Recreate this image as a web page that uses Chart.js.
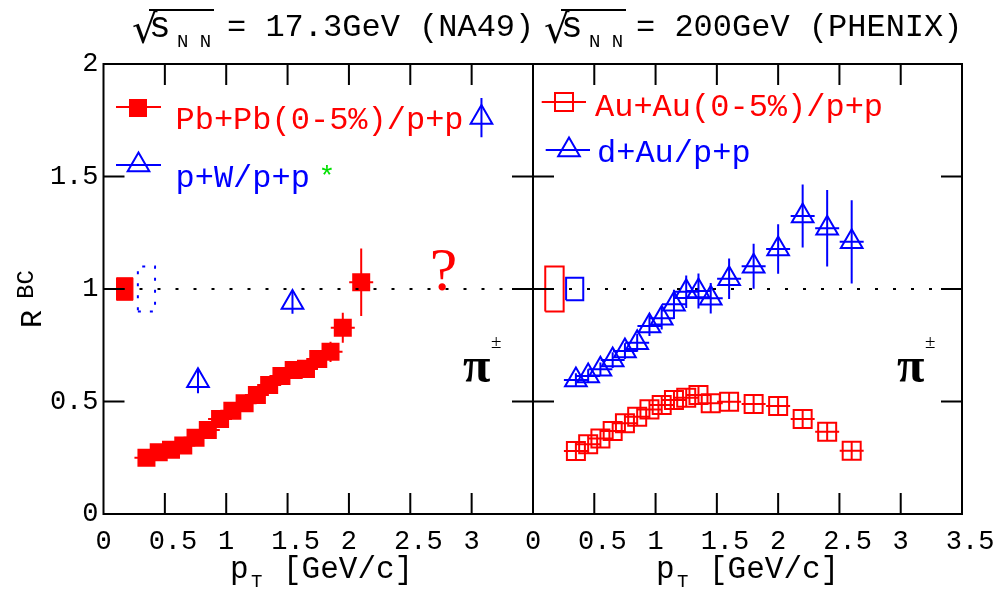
<!DOCTYPE html>
<html>
<head>
<meta charset="utf-8">
<title>R_BC of charged pions: NA49 vs PHENIX</title>
<script src="https://cdn.jsdelivr.net/npm/chart.js@4.4.1/dist/chart.umd.min.js"></script>
<style>
  html, body { margin: 0; padding: 0; background: #fff; }
  #wrap { position: relative; width: 996px; height: 589px; overflow: hidden; background: #fff; }
  #wrap canvas { position: absolute; left: 0; top: 0; }
</style>
</head>
<body>
<div id="wrap">
  <canvas id="cL" width="996" height="589"></canvas>
  <canvas id="cR" width="996" height="589"></canvas>
</div>
<script>
// ---------- axes ----------
const xTickValues = [0, 0.5, 1, 1.5, 2, 2.5, 3, 3.5];
const xTickLabelsLeft = ['0', '0.5', '1', '1.5', '2', '2.5', '3', ''];
const xTickLabelsRight = ['0', '0.5', '1', '1.5', '2', '2.5', '3', '3.5'];
const yTickValues = [0, 0.5, 1, 1.5, 2];
const yTickLabels = ['0', '0.5', '1', '1.5', '2'];

// ---------- NA49, sqrt(s_NN) = 17.3 GeV ----------
const pbpbPt  = [0.35, 0.45, 0.55, 0.65, 0.75, 0.85, 0.95, 1.05, 1.15, 1.25, 1.35, 1.45, 1.55, 1.65, 1.75, 1.85, 1.95, 2.10];
const pbpbR   = [0.250, 0.274, 0.286, 0.304, 0.339, 0.373, 0.422, 0.459, 0.492, 0.529, 0.573, 0.613, 0.640, 0.645, 0.689, 0.721, 0.828, 1.030];
const pbpbErr = [0.01, 0.01, 0.01, 0.01, 0.01, 0.01, 0.012, 0.012, 0.015, 0.015, 0.02, 0.02, 0.02, 0.025, 0.03, 0.045, 0.067, 0.150];

const pwPt  = [0.77, 1.54, 3.08];
const pwR   = [0.592, 0.940, 1.762];
const pwErr = [0.055, 0.050, 0.087];

// normalisation uncertainties drawn at R = 1
const pbpbNorm = 0.05, pbpbNormX = [0.108, 0.240];
const pwNorm   = 0.10, pwNormX   = [0.280, 0.420];

// ---------- PHENIX, sqrt(s_NN) = 200 GeV ----------
const auPt  = [0.35, 0.45, 0.55, 0.65, 0.75, 0.85, 0.95, 1.05, 1.15, 1.25, 1.35, 1.45, 1.6, 1.8, 2.0, 2.2, 2.4, 2.6];
const auR   = [0.280, 0.310, 0.336, 0.369, 0.403, 0.432, 0.465, 0.484, 0.507, 0.517, 0.529, 0.492, 0.499, 0.489, 0.480, 0.422, 0.366, 0.281];
const auErr = [0.04, 0.04, 0.04, 0.04, 0.04, 0.04, 0.04, 0.04, 0.04, 0.04, 0.04, 0.04, 0.04, 0.04, 0.04, 0.04, 0.04, 0.04];

const dauPt  = [0.35, 0.45, 0.55, 0.65, 0.75, 0.85, 0.95, 1.05, 1.15, 1.25, 1.35, 1.45, 1.6, 1.8, 2.0, 2.2, 2.4, 2.6];
const dauR   = [0.596, 0.613, 0.643, 0.684, 0.724, 0.761, 0.836, 0.870, 0.932, 0.988, 0.991, 0.959, 1.046, 1.101, 1.178, 1.324, 1.270, 1.210];
const dauErr = [0.03, 0.03, 0.03, 0.035, 0.035, 0.04, 0.045, 0.05, 0.065, 0.072, 0.078, 0.068, 0.09, 0.10, 0.11, 0.14, 0.17, 0.185];

const auNorm  = 0.10, auNormX  = [0.100, 0.250];
const dauNorm = 0.05, dauNormX = [0.270, 0.410];

// ---------- styling ----------
const RED = '#ff0000', BLUE = '#0000ff', GREEN = '#00e000', BLACK = '#000000';
const MONO = '"Liberation Mono", "Courier New", monospace';
const SERIF = '"Liberation Serif", "Times New Roman", serif';
const TRI_R = 12.5;

const pts = (xs, ys) => xs.map((x, i) => ({ x, y: ys[i] }));
const boxPts = (xr, c, h) => [
  { x: xr[0], y: c - h }, { x: xr[1], y: c - h }, { x: xr[1], y: c + h },
  { x: xr[0], y: c + h }, { x: xr[0], y: c - h }
];

function unityLine() {
  return {
    type: 'line', data: [{ x: 0, y: 1 }, { x: 3.5, y: 1 }],
    borderColor: BLACK, borderWidth: 2, borderDash: [3, 15],
    pointRadius: 0, fill: false
  };
}

// vertical error bars and the short horizontal bar through each marker
const errorBarPlugin = {
  id: 'errorBars',
  afterDatasetsDraw(chart) {
    const { ctx, scales: { x, y } } = chart;
    chart.data.datasets.forEach((ds) => {
      if (!ds.errY) return;
      ctx.save();
      ctx.strokeStyle = ds.borderColor;
      ctx.lineWidth = 2;
      ctx.beginPath();
      ds.data.forEach((p, j) => {
        const px = x.getPixelForValue(p.x);
        const py = y.getPixelForValue(p.y);
        const e = ds.errY[j];
        ctx.moveTo(px, y.getPixelForValue(p.y - e));
        ctx.lineTo(px, y.getPixelForValue(p.y + e));
        if (ds.barHalf) {
          ctx.moveTo(px - ds.barHalf, py);
          ctx.lineTo(px + ds.barHalf, py);
        }
      });
      ctx.stroke();
      ctx.restore();
    });
  }
};

// closed frame with inward ticks on all four sides
const framePlugin = {
  id: 'frame',
  afterDraw(chart) {
    const { ctx, chartArea: a, scales: { x, y } } = chart;
    const L = 21;
    ctx.save();
    ctx.strokeStyle = BLACK;
    ctx.lineWidth = 2;
    ctx.strokeRect(a.left, a.top, a.right - a.left, a.bottom - a.top);
    ctx.beginPath();
    xTickValues.forEach(v => {
      const px = x.getPixelForValue(v);
      if (px <= a.left + 1 || px >= a.right - 1) return;
      ctx.moveTo(px, a.bottom); ctx.lineTo(px, a.bottom - L);
      ctx.moveTo(px, a.top); ctx.lineTo(px, a.top + L);
    });
    yTickValues.forEach(v => {
      const py = y.getPixelForValue(v);
      if (py <= a.top + 1 || py >= a.bottom - 1) return;
      ctx.moveTo(a.left, py); ctx.lineTo(a.left + L, py);
      ctx.moveTo(a.right, py); ctx.lineTo(a.right - L, py);
    });
    ctx.stroke();
    ctx.restore();
  }
};

function drawMarker(ctx, style, cx, cy, color, filled) {
  ctx.save();
  ctx.strokeStyle = color; ctx.fillStyle = color; ctx.lineWidth = 2;
  ctx.beginPath();
  if (style === 'rect') {
    ctx.rect(cx - 9, cy - 9, 18, 18);
  } else {
    ctx.moveTo(cx, cy - TRI_R);
    ctx.lineTo(cx + TRI_R * 0.866, cy + TRI_R / 2);
    ctx.lineTo(cx - TRI_R * 0.866, cy + TRI_R / 2);
    ctx.closePath();
  }
  if (filled) ctx.fill(); else ctx.stroke();
  ctx.restore();
}

// in-frame legend: entries are placed relative to the plot area
function legendPlugin(entries) {
  return {
    id: 'frameLegend',
    afterDraw(chart) {
      const { ctx, chartArea: a } = chart;
      entries.forEach(e => {
        const ds = chart.data.datasets[e.ds];
        const color = ds.borderColor;
        ctx.save();
        ctx.strokeStyle = color; ctx.lineWidth = 2;
        ctx.beginPath();
        ctx.moveTo(a.left + e.line[0], a.top + e.lineY);
        ctx.lineTo(a.left + e.line[1], a.top + e.lineY);
        ctx.stroke();
        drawMarker(ctx, ds.pointStyle, a.left + e.mx, a.top + e.my, color, ds.backgroundColor !== 'transparent');
        ctx.fillStyle = color;
        ctx.font = '32px ' + MONO;
        ctx.textBaseline = 'alphabetic';
        ctx.fillText(ds.label, a.left + e.tx, a.top + e.ty);
        if (e.mark) {
          ctx.fillStyle = GREEN;
          ctx.font = '28px ' + MONO;
          ctx.fillText(e.mark, a.left + e.markX, a.top + e.markY);
        }
        ctx.restore();
      });
    }
  };
}

// pi+- particle label placed in data coordinates
function drawPion(ctx, x, y, xv, yv) {
  const px = x.getPixelForValue(xv), py = y.getPixelForValue(yv);
  ctx.save();
  ctx.fillStyle = BLACK;
  ctx.textBaseline = 'alphabetic';
  ctx.font = 'bold 50px ' + SERIF;
  ctx.fillText('\u03C0', px, py);
  ctx.font = '19px ' + SERIF;
  ctx.fillText('\u00B1', px + 28, py - 34);
  ctx.restore();
}

function drawXTitle(ctx, left) {
  ctx.save();
  ctx.fillStyle = BLACK;
  ctx.textBaseline = 'alphabetic';
  ctx.font = '31px ' + MONO;
  ctx.fillText('p', left, 578);
  ctx.font = '19px ' + MONO;
  ctx.fillText('T', left + 21, 587);
  ctx.font = '31px ' + MONO;
  ctx.fillText('[GeV/c]', left + 53, 578);
  ctx.restore();
}

function drawSqrtS(ctx, left, textLeft, text) {
  ctx.save();
  ctx.fillStyle = BLACK; ctx.strokeStyle = BLACK;
  ctx.textBaseline = 'alphabetic';
  ctx.font = '40px "DejaVu Sans", sans-serif';
  ctx.fillText('\u221A', left - 3, 43);
  ctx.lineWidth = 2;
  ctx.beginPath();
  ctx.moveTo(left + 14, 10); ctx.lineTo(left + 79, 10);
  ctx.stroke();
  ctx.font = '36px ' + MONO;
  ctx.fillText('s', left + 14, 37);
  ctx.font = '19px ' + MONO;
  ctx.fillText('N N', left + 42, 47);
  ctx.font = '32px ' + MONO;
  ctx.fillText(text, textLeft, 36);
  ctx.restore();
}

const leftTextPlugin = {
  id: 'leftText',
  afterDraw(chart) {
    const { ctx, scales: { x, y } } = chart;
    // energy labels across the top
    drawSqrtS(ctx, 135, 227, '= 17.3GeV (NA49)');
    drawSqrtS(ctx, 547, 636, '= 200GeV (PHENIX)');
    // vertical axis title R^BC
    ctx.save();
    ctx.fillStyle = BLACK;
    ctx.textBaseline = 'alphabetic';
    ctx.translate(41, 328); ctx.rotate(-Math.PI / 2);
    ctx.font = '30px ' + MONO;
    ctx.fillText('R', 0, 0);
    ctx.restore();
    ctx.save();
    ctx.fillStyle = BLACK;
    ctx.textBaseline = 'alphabetic';
    ctx.translate(33, 299); ctx.rotate(-Math.PI / 2);
    ctx.font = '24px ' + MONO;
    ctx.fillText('BC', 0, 0);
    ctx.restore();
    drawXTitle(ctx, 230);
    // open question mark between the two energies
    ctx.save();
    ctx.fillStyle = RED;
    ctx.font = '62px ' + SERIF;
    ctx.textAlign = 'center';
    ctx.textBaseline = 'alphabetic';
    ctx.fillText('?', x.getPixelForValue(2.77), y.getPixelForValue(0.995));
    ctx.restore();
    drawPion(ctx, x, y, 2.93, 0.587);
  }
};

const rightTextPlugin = {
  id: 'rightText',
  afterDraw(chart) {
    const { ctx, scales: { x, y } } = chart;
    drawXTitle(ctx, 656);
    drawPion(ctx, x, y, 2.97, 0.587);
  }
};

function xScale(labels) {
  return {
    type: 'linear', min: 0, max: 3.5,
    afterBuildTicks: s => { s.ticks = xTickValues.map(v => ({ value: v })); },
    // keep the plot area fixed: edge labels may hang over the frame
    afterFit: s => { s.height = 75; s.paddingLeft = 0; s.paddingRight = 0; },
    grid: { display: false, drawTicks: false },
    border: { display: false },
    ticks: {
      autoSkip: false, maxRotation: 0, padding: 12, color: BLACK,
      font: { family: MONO, size: 27 },
      // fractional labels sit a little right of their tick
      callback: (v, i) => (labels[i].length > 1 ? ' ' : '') + labels[i]
    }
  };
}

function yScale(width, showLabels) {
  return {
    type: 'linear', min: 0, max: 2,
    afterBuildTicks: s => { s.ticks = yTickValues.map(v => ({ value: v })); },
    afterFit: s => { s.width = width; s.paddingTop = 0; s.paddingBottom = 0; },
    grid: { display: false, drawTicks: false },
    border: { display: false },
    ticks: {
      display: showLabels, padding: 5, color: BLACK,
      font: { family: MONO, size: 27 },
      callback: (v, i) => yTickLabels[i]
    }
  };
}

const common = {
  responsive: false,
  animation: false,
  events: [],
  plugins: { legend: { display: false }, tooltip: { enabled: false } }
};

// ----- left panel: NA49 -----
new Chart(document.getElementById('cL'), {
  type: 'scatter',
  data: {
    datasets: [
      unityLine(),
      {
        type: 'line', data: boxPts(pbpbNormX, 1, pbpbNorm),
        borderColor: RED, backgroundColor: RED, borderWidth: 1,
        pointRadius: 0, fill: 'shape'
      },
      {
        type: 'line', data: boxPts(pwNormX, 1, pwNorm),
        borderColor: BLUE, borderWidth: 2, borderDash: [3, 9],
        pointRadius: 0, fill: false
      },
      {
        label: 'Pb+Pb(0-5%)/p+p', data: pts(pbpbPt, pbpbR), errY: pbpbErr, barHalf: 12,
        pointStyle: 'rect', pointRadius: 12.73, borderWidth: 0,
        borderColor: RED, backgroundColor: RED
      },
      {
        label: 'p+W/p+p', data: pts(pwPt, pwR), errY: pwErr, barHalf: 0,
        pointStyle: 'triangle', pointRadius: TRI_R, borderWidth: 2,
        borderColor: BLUE, backgroundColor: 'transparent'
      }
    ]
  },
  options: {
    ...common,
    layout: { padding: { top: 64, right: 463, left: 0, bottom: 0 } },
    scales: { x: xScale(xTickLabelsLeft), y: yScale(103.5, true) }
  },
  plugins: [errorBarPlugin, framePlugin, leftTextPlugin, legendPlugin([
    { ds: 3, line: [12.5, 57.5], lineY: 43, mx: 34.5, my: 44, tx: 72, ty: 65 },
    { ds: 4, line: [12.5, 57.5], lineY: 101, mx: 35, my: 101, tx: 72, ty: 123,
      mark: '*', markX: 215, markY: 121 }
  ])]
});

// ----- right panel: PHENIX -----
new Chart(document.getElementById('cR'), {
  type: 'scatter',
  data: {
    datasets: [
      unityLine(),
      {
        type: 'line', data: boxPts(auNormX, 1, auNorm),
        borderColor: RED, borderWidth: 2, pointRadius: 0, fill: false
      },
      {
        type: 'line', data: boxPts(dauNormX, 1, dauNorm),
        borderColor: BLUE, borderWidth: 2, pointRadius: 0, fill: false
      },
      {
        label: 'Au+Au(0-5%)/p+p', data: pts(auPt, auR), errY: auErr, barHalf: 12,
        pointStyle: 'rect', pointRadius: 12.73, borderWidth: 2,
        borderColor: RED, backgroundColor: 'transparent'
      },
      {
        label: 'd+Au/p+p', data: pts(dauPt, dauR), errY: dauErr, barHalf: 12,
        pointStyle: 'triangle', pointRadius: TRI_R, borderWidth: 2,
        borderColor: BLUE, backgroundColor: 'transparent'
      }
    ]
  },
  options: {
    ...common,
    layout: { padding: { top: 64, right: 34, left: 0, bottom: 0 } },
    scales: { x: xScale(xTickLabelsRight), y: yScale(533, false) }
  },
  plugins: [errorBarPlugin, framePlugin, rightTextPlugin, legendPlugin([
    { ds: 3, line: [8.7, 53], lineY: 38, mx: 31, my: 38, tx: 62, ty: 52 },
    { ds: 4, line: [12.7, 57], lineY: 86, mx: 36, my: 86, tx: 64, ty: 98 }
  ])]
});
</script>
</body>
</html>
